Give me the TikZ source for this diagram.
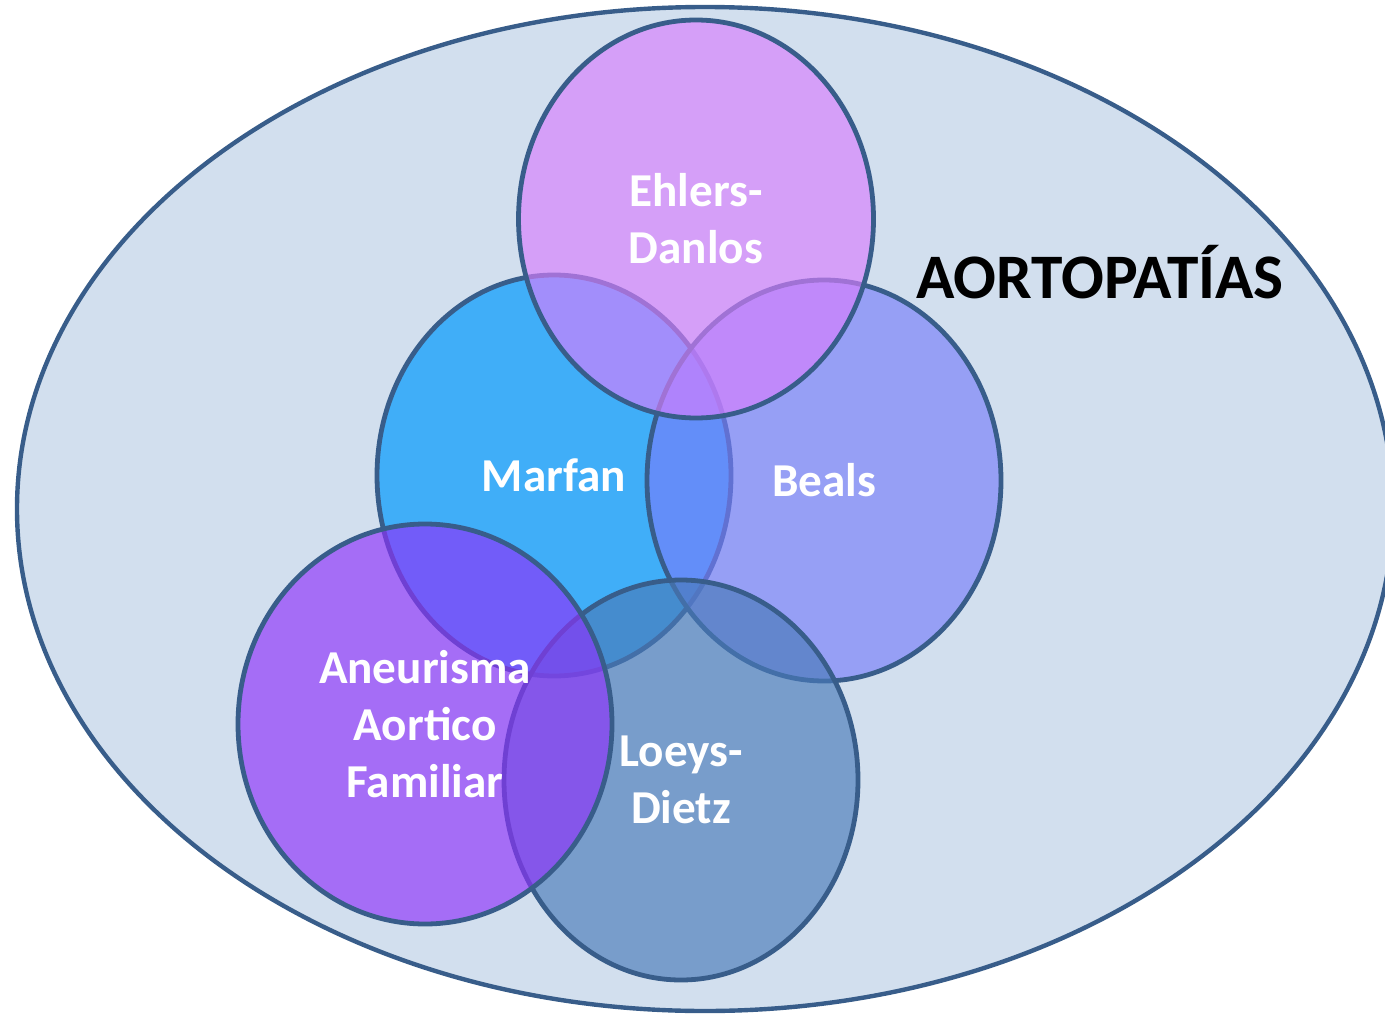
\documentclass[tikz,border=0pt]{standalone}
\usepackage{fontspec}
\setmainfont{Carlito}
\usetikzlibrary{shapes.geometric}
\definecolor{bordc}{RGB}{56,93,138}
\definecolor{bgc}{RGB}{210,223,238}
\definecolor{ehc}{RGB}{216,126,254}
\definecolor{mac}{RGB}{64,174,248}
\definecolor{bec}{RGB}{119,125,250}
\definecolor{anc}{RGB}{141,49,251}
\definecolor{loc}{RGB}{73,122,185}
\tikzset{
  setc/.style={ellipse, draw=bordc, line width=2.4pt, inner sep=0pt, outer sep=0pt,
    fill opacity=0.65, text opacity=1, text=white, align=center,
    font=\fontsize{23.6}{28.5}\selectfont\bfseries},
}
\begin{document}
\begin{tikzpicture}[x=0.5pt,y=-0.5pt]
\useasboundingbox (0,0) rectangle (1385,1016);
\node[ellipse, draw=bordc, fill=bgc, line width=2.2pt, inner sep=0pt,
  minimum width=688pt, minimum height=502pt] (aorto) at (705,509) {};
\node[setc, fill=mac, fill opacity=1, minimum width=177pt, minimum height=200.5pt] (marfan) at (554,475.5) {Marfan};
\node[setc, fill=bec, minimum width=177pt, minimum height=200.5pt] (beals) at (824,480.5) {Beals};
\node[setc, fill=ehc, minimum width=177.5pt, minimum height=199pt] (ehlers) at (696,219) {Ehlers-\\Danlos};
\node[setc, fill=loc, minimum width=177pt, minimum height=200pt] (loeys) at (681,780) {Loeys-\\Dietz};
\node[setc, fill=anc, minimum width=187pt, minimum height=200pt] (aneur) at (425,724) {Aneurisma\\Aortico\\Familiar};
\node[font=\fontsize{31.7}{36}\selectfont\bfseries, text=black, inner sep=0pt] (title) at (1100,272) {AORTOPATÍAS};
\end{tikzpicture}
\end{document}
